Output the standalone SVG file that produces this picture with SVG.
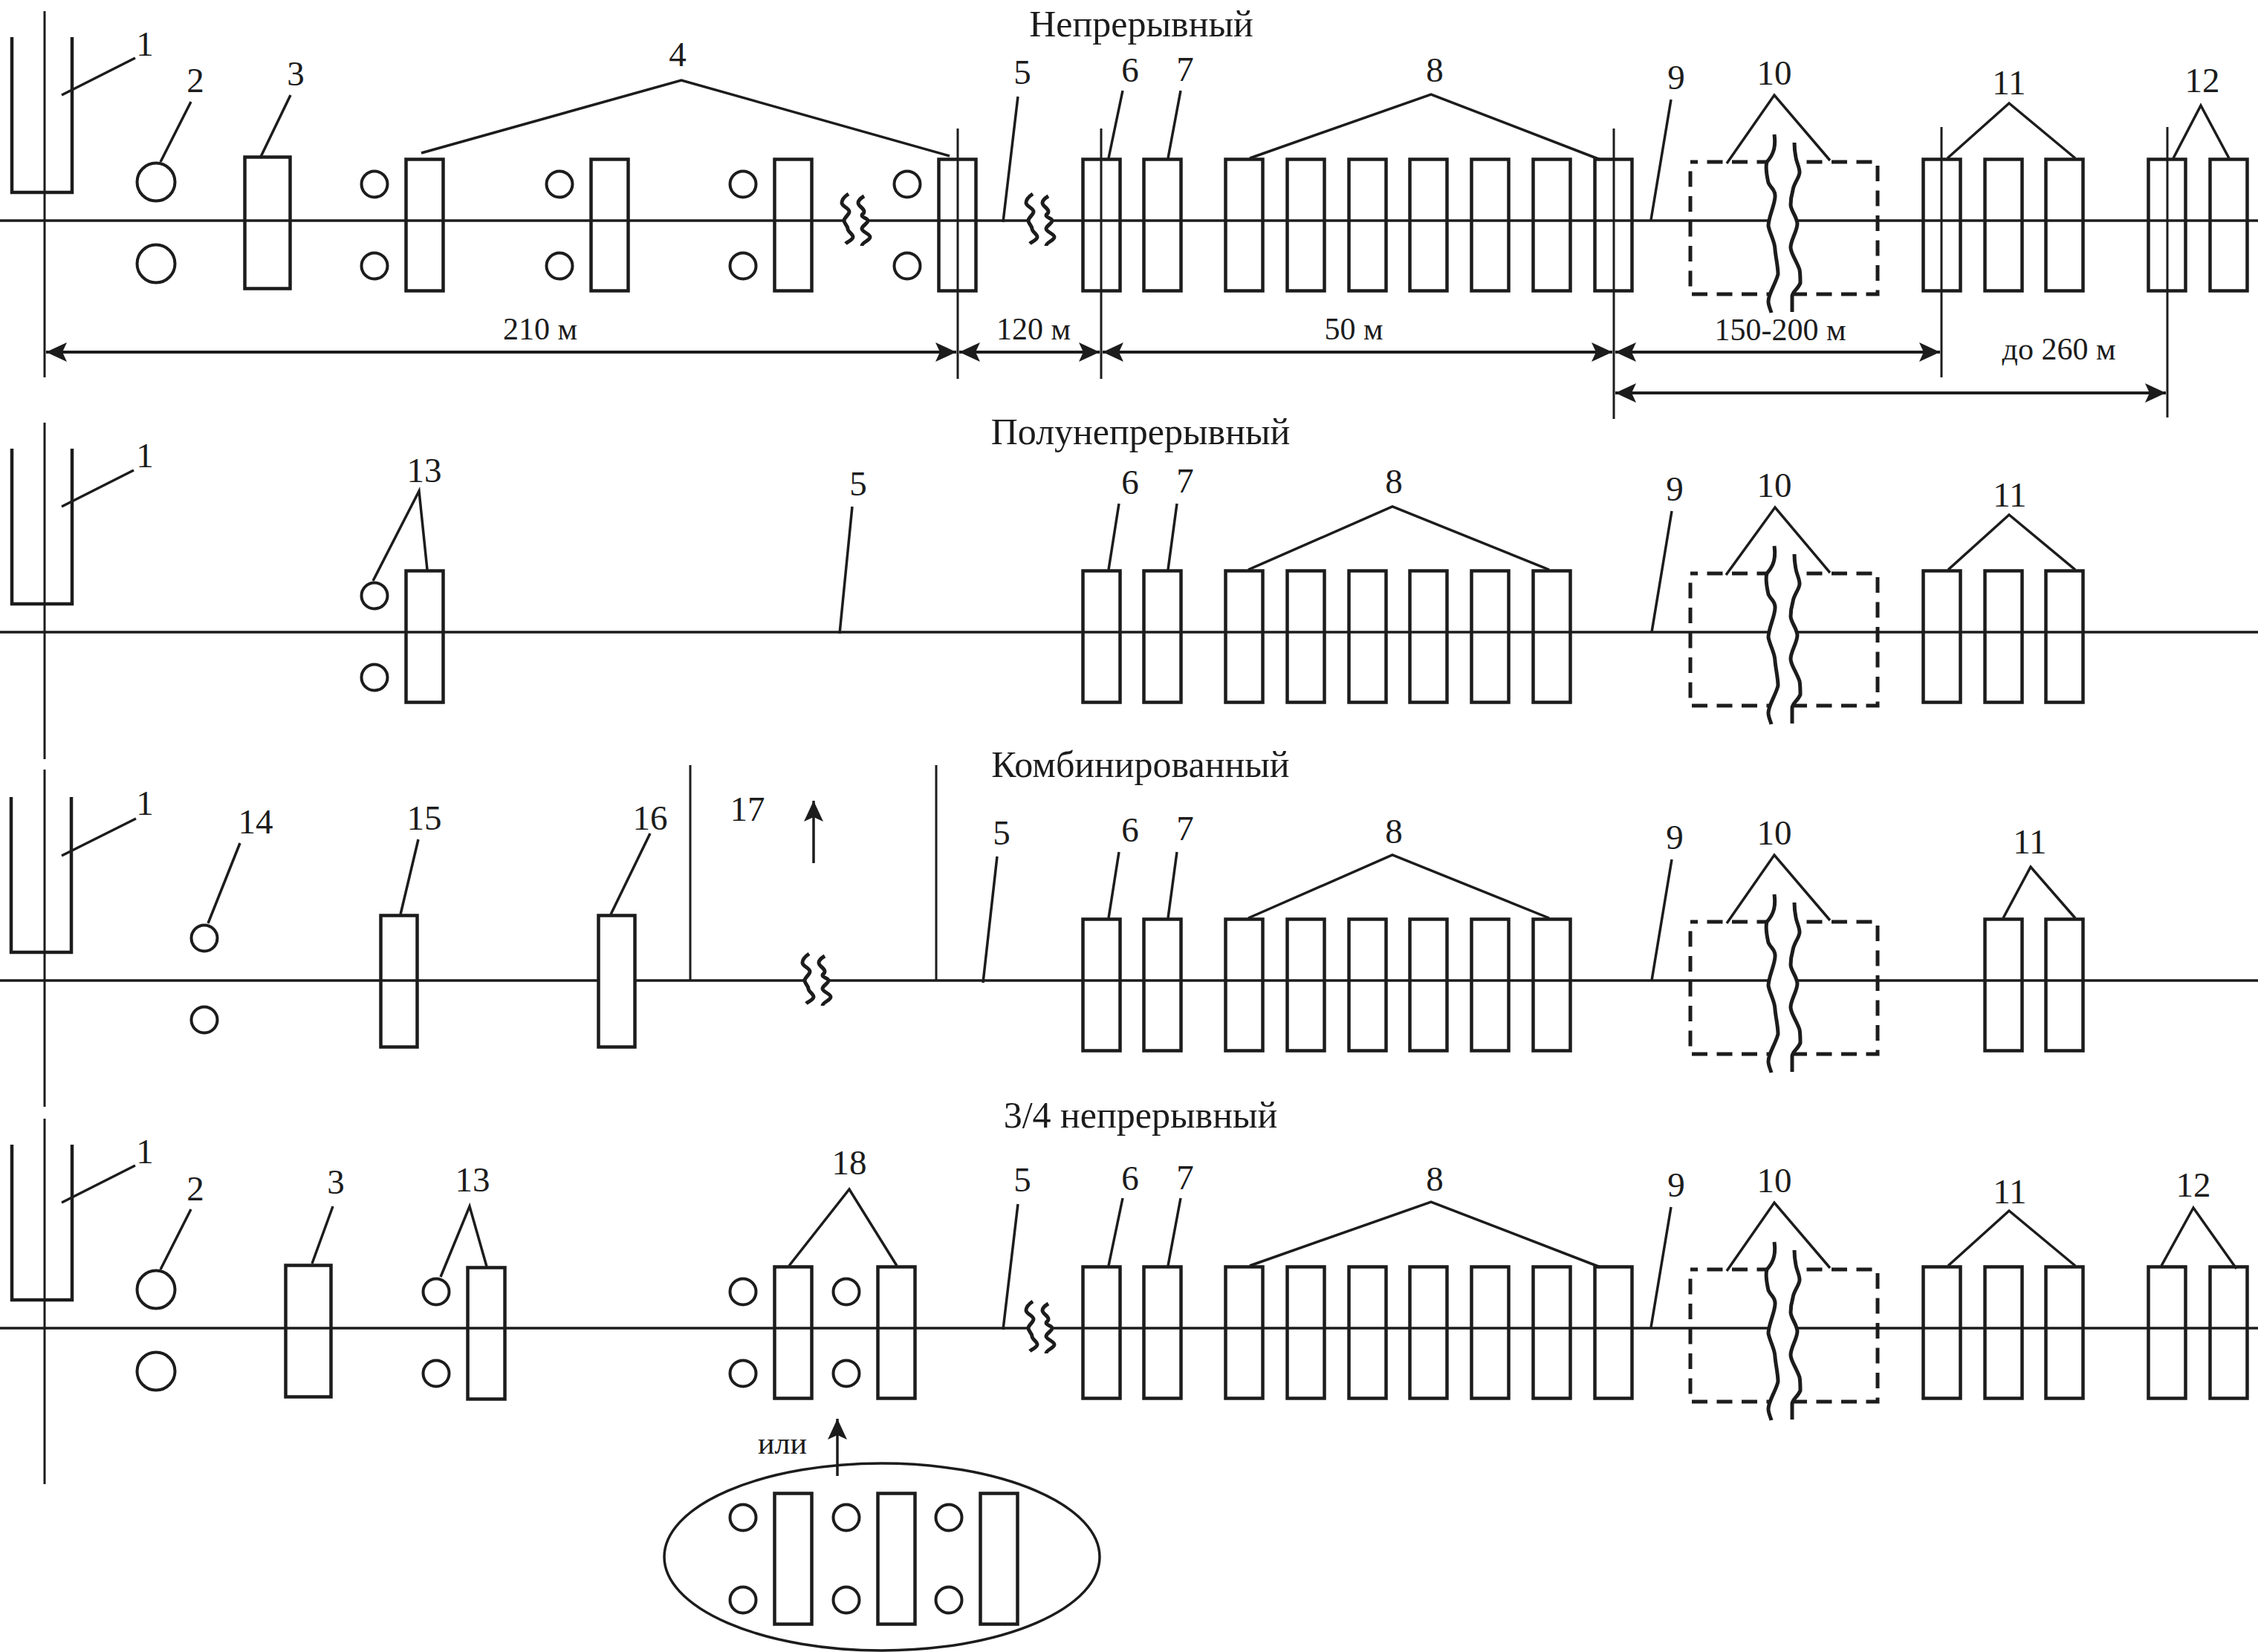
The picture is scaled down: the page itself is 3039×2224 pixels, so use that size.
<svg xmlns="http://www.w3.org/2000/svg" width="3039" height="2224" viewBox="0 0 3039 2224">
<style>
text{font-family:"Liberation Serif","Times New Roman",serif;font-size:47px;fill:#1c1c1c;text-anchor:middle}
.t{font-size:50px}
.d{font-size:42px}
.s{fill:none;stroke:#1c1c1c;stroke-width:4.5}
.w{fill:#fff;stroke:#1c1c1c;stroke-width:4.5}
.c{fill:none;stroke:#1c1c1c;stroke-width:4}
.e{fill:none;stroke:#1c1c1c;stroke-width:3.5}
.m{fill:none;stroke:#1c1c1c;stroke-width:3.5}
.v{fill:none;stroke:#1c1c1c;stroke-width:3}
.l{fill:none;stroke:#1c1c1c;stroke-width:3.5}
.dash{fill:none;stroke:#1c1c1c;stroke-width:5;stroke-dasharray:21 12.5;stroke-dashoffset:11}
.dim{fill:none;stroke:#1c1c1c;stroke-width:4;marker-start:url(#ah);marker-end:url(#ah)}
.up{fill:none;stroke:#1c1c1c;stroke-width:3.5;marker-end:url(#ah)}
.wv{fill:none;stroke:#1c1c1c;stroke-width:5}
</style>
<defs>
<marker id="ah" markerUnits="userSpaceOnUse" markerWidth="30" markerHeight="26" refX="28" refY="13" orient="auto-start-reverse"><path d="M0 0L28 13L0 26L6 13Z" fill="#1c1c1c"/></marker>
<g id="river">
<path fill="#fff" d="M0 -116C2 -101,0 -90,-10 -79C-12 -72,-10 -60,-8 -51C-5 -44,1 -42,1 -34C2 -24,-8 -5,-8 7C-6 18,1 28,1 39C2 50,5 62,5 72C2 85,-8 98,-8 109C-8 114,-5 120,-4 124L24 123L24 102C24 96,32 92,35 84C35 78,35 72,34 66C29 52,22 44,22 36C22 26,31 14,31 4C30 -6,23 -12,22 -21C22 -27,23 -34,25 -41C26 -50,34 -58,34 -65C34 -72,30 -78,29 -85C28 -90,27 -95,27 -105Z"/>
<path class="wv" d="M0 -116C2 -101,0 -90,-10 -79C-12 -72,-10 -60,-8 -51C-5 -44,1 -42,1 -34C2 -24,-8 -5,-8 7C-6 18,1 28,1 39C2 50,5 62,5 72C2 85,-8 98,-8 109C-8 114,-5 120,-4 124"/>
<path class="wv" d="M27 -105C27 -95,28 -90,29 -85C30 -78,34 -72,34 -65C34 -58,26 -50,25 -41C23 -34,22 -27,22 -21C23 -12,30 -6,31 4C31 14,22 26,22 36C22 44,29 52,34 66C35 72,35 78,35 84C32 92,24 96,24 102L24 123"/>
</g>
<g id="wave">
<rect x="0" y="-4" width="30" height="8" fill="#fff"/>
<path class="wv" d="M6 -36C0 -32,-3 -28,-3 -24C-3 -19,7 -17,7 -12C7 -8,0 -4,0 0C0 4,5 7,5 11C5 15,12 18,12 22C12 26,5 28,2 31"/>
<path class="wv" d="M27 -33C22 -30,19 -27,19 -24C19 -19,27 -17,27 -12C27 -9,24 -9,24 -7C24 -4,32 -3,32 0C32 4,24 7,24 11C24 15,35 18,35 22C35 27,24 29,24 34"/>
</g>
</defs>

<g id="connectors">
<path class="m" d="M0 297H3039M0 851H3039M0 1320H3039M0 1788H3039"/>
<path class="v" d="M60 15V508M60 569V1022M60 1036V1490M60 1506V1998"/>
<path class="v" d="M1289 173V510M1482 173V510M2172 173V564M2613 171V508M2917 171V562"/>
<path class="v" d="M929 1030V1320M1260 1030V1320"/>
<path class="dim" d="M62 474H1287"/>
<path class="dim" d="M1291 474H1480"/>
<path class="dim" d="M1484 474H2170"/>
<path class="dim" d="M2174 474H2611"/>
<path class="dim" d="M2174 529H2915"/>
<path class="l" d="M83 128L182 78M257 137L216 218M391 128L350 213M567 206L917 108L1278 210M1370 130L1350 299M1511 122L1492 213M1589 122L1572 213M1682 213L1926 127L2154 215M2249 134L2222 296M2324 220L2388 128L2463 216M2621 213L2704 139L2793 213M2925 213L2962 142L3000 213"/>
<path class="l" d="M83 682L180 633M502 782L564 661L575 767M1147 682L1130 853M1506 678L1492 767M1584 678L1572 767M1680 767L1874 682L2085 767M2250 688L2223 851M2323 774L2389 683L2463 771M2622 767L2704 693L2793 767"/>
<path class="l" d="M83 1152L183 1102M323 1135L280 1243M563 1130L539 1231M875 1122L822 1231M1342 1153L1323 1323M1506 1147L1492 1236M1584 1147L1572 1236M1680 1236L1874 1151L2085 1236M2250 1157L2223 1320M2324 1243L2388 1151L2463 1239M2696 1236L2733 1167L2793 1236"/>
<path class="l" d="M83 1619L182 1569M257 1628L216 1709M448 1624L420 1701M593 1719L632 1624L655 1705M1062 1704L1143 1601L1207 1704M1370 1621L1350 1790M1511 1613L1492 1704M1589 1613L1572 1704M1682 1704L1926 1618L2154 1706M2249 1625L2222 1787M2324 1711L2388 1619L2463 1707M2622 1704L2704 1630L2793 1704M2909 1704L2952 1626L3010 1708"/>
<path class="up" d="M1095 1162V1078"/>
<path class="up" d="M1127 1987V1910"/>
</g>

<g id="titles">
<text class="t" x="1536" y="49">Непрерывный</text>
<text class="t" x="1535" y="598">Полунепрерывный</text>
<text class="t" x="1535" y="1046">Комбинированный</text>
<text class="t" x="1535" y="1518">3/4 непрерывный</text>
</g>

<g id="dimension-labels">
<text class="d" x="727" y="457">210 м</text>
<text class="d" x="1391" y="457">120 м</text>
<text class="d" x="1822" y="457">50 м</text>
<text class="d" x="2396" y="458">150-200 м</text>
<text class="d" x="2771" y="484">до 260 м</text>
<text class="d" x="1053" y="1957">или</text>
</g>

<g id="r1-n1"><path class="s" d="M16 50V259H97V50"/><text x="195" y="75">1</text></g>
<g id="r1-n2"><circle class="c" cx="210" cy="245" r="25.5"/><circle class="c" cx="210" cy="355" r="25.5"/><text x="263" y="124">2</text></g>
<g id="r1-n3"><rect class="s" x="329.5" y="211.5" width="61" height="177"/><text x="398" y="115">3</text></g>
<g id="r1-n4"><text x="912" y="89">4</text>
<circle class="c" cx="504" cy="248" r="17.5"/><circle class="c" cx="504" cy="358" r="17.5"/><rect class="s" x="546.5" y="214.5" width="50" height="177"/>
<circle class="c" cx="753" cy="248" r="17.5"/><circle class="c" cx="753" cy="358" r="17.5"/><rect class="s" x="795.5" y="214.5" width="50" height="177"/>
<circle class="c" cx="1000" cy="248" r="17.5"/><circle class="c" cx="1000" cy="358" r="17.5"/><rect class="s" x="1042.5" y="214.5" width="50" height="177"/>
<use href="#wave" x="1136" y="297"/>
<circle class="c" cx="1221" cy="248" r="17.5"/><circle class="c" cx="1221" cy="358" r="17.5"/><rect class="s" x="1263.5" y="214.5" width="50" height="177"/></g>
<g id="r1-n5"><use href="#wave" x="1384" y="297"/><text x="1376" y="113">5</text></g>
<g id="r1-n6"><rect class="s" x="1457.5" y="214.5" width="50" height="177"/><text x="1521" y="110">6</text></g>
<g id="r1-n7"><rect class="s" x="1539.5" y="214.5" width="50" height="177"/><text x="1595" y="109">7</text></g>
<g id="r1-n8"><rect class="s" x="1649.5" y="214.5" width="50" height="177"/><rect class="s" x="1732.5" y="214.5" width="50" height="177"/><rect class="s" x="1815.5" y="214.5" width="50" height="177"/><rect class="s" x="1897.5" y="214.5" width="50" height="177"/><rect class="s" x="1980.5" y="214.5" width="50" height="177"/><rect class="s" x="2063.5" y="214.5" width="50" height="177"/><rect class="s" x="2146.5" y="214.5" width="50" height="177"/><text x="1931" y="110">8</text></g>
<g id="r1-n9"><text x="2256" y="120">9</text></g>
<g id="r1-n10"><rect class="dash" x="2275" y="218" width="252" height="178"/><use href="#river" x="2388" y="297"/><text x="2388" y="114">10</text></g>
<g id="r1-n11"><rect class="s" x="2588.5" y="214.5" width="50" height="177"/><rect class="s" x="2671.5" y="214.5" width="50" height="177"/><rect class="s" x="2753.5" y="214.5" width="50" height="177"/><text x="2704" y="127">11</text></g>
<g id="r1-n12"><rect class="s" x="2891.5" y="214.5" width="50" height="177"/><rect class="s" x="2974.5" y="214.5" width="50" height="177"/><text x="2964" y="124">12</text></g>

<g id="r2-n1"><path class="s" d="M16 604V813H97V604"/><text x="195" y="629">1</text></g>
<g id="r2-n13"><circle class="c" cx="504" cy="802" r="17.5"/><circle class="c" cx="504" cy="912" r="17.5"/><rect class="s" x="546.5" y="768.5" width="50" height="177"/><text x="571" y="649">13</text></g>
<g id="r2-n5"><text x="1155" y="667">5</text></g>
<g id="r2-n6"><rect class="s" x="1457.5" y="768.5" width="50" height="177"/><text x="1521" y="665">6</text></g>
<g id="r2-n7"><rect class="s" x="1539.5" y="768.5" width="50" height="177"/><text x="1595" y="663">7</text></g>
<g id="r2-n8"><rect class="s" x="1649.5" y="768.5" width="50" height="177"/><rect class="s" x="1732.5" y="768.5" width="50" height="177"/><rect class="s" x="1815.5" y="768.5" width="50" height="177"/><rect class="s" x="1897.5" y="768.5" width="50" height="177"/><rect class="s" x="1980.5" y="768.5" width="50" height="177"/><rect class="s" x="2063.5" y="768.5" width="50" height="177"/><text x="1876" y="664">8</text></g>
<g id="r2-n9"><text x="2254" y="674">9</text></g>
<g id="r2-n10"><rect class="dash" x="2275" y="772" width="252" height="178"/><use href="#river" x="2388" y="851"/><text x="2388" y="669">10</text></g>
<g id="r2-n11"><rect class="s" x="2588.5" y="768.5" width="50" height="177"/><rect class="s" x="2671.5" y="768.5" width="50" height="177"/><rect class="s" x="2753.5" y="768.5" width="50" height="177"/><text x="2705" y="682">11</text></g>

<g id="r3-n1"><path class="s" d="M15 1073V1282H96V1073"/><text x="195" y="1097">1</text></g>
<g id="r3-n14"><circle class="c" cx="275" cy="1263" r="17.5"/><circle class="c" cx="275" cy="1373" r="17.5"/><text x="344" y="1122">14</text></g>
<g id="r3-n15"><rect class="s" x="512.5" y="1232.5" width="49" height="177"/><text x="571" y="1117">15</text></g>
<g id="r3-n16"><rect class="w" x="805.5" y="1232.5" width="49" height="177"/><text x="875" y="1117">16</text></g>
<g id="r3-n17"><use href="#wave" x="1083" y="1320"/><text x="1006" y="1105">17</text></g>
<g id="r3-n5"><text x="1348" y="1137">5</text></g>
<g id="r3-n6"><rect class="s" x="1457.5" y="1237.5" width="50" height="177"/><text x="1521" y="1133">6</text></g>
<g id="r3-n7"><rect class="s" x="1539.5" y="1237.5" width="50" height="177"/><text x="1595" y="1131">7</text></g>
<g id="r3-n8"><rect class="s" x="1649.5" y="1237.5" width="50" height="177"/><rect class="s" x="1732.5" y="1237.5" width="50" height="177"/><rect class="s" x="1815.5" y="1237.5" width="50" height="177"/><rect class="s" x="1897.5" y="1237.5" width="50" height="177"/><rect class="s" x="1980.5" y="1237.5" width="50" height="177"/><rect class="s" x="2063.5" y="1237.5" width="50" height="177"/><text x="1876" y="1135">8</text></g>
<g id="r3-n9"><text x="2254" y="1143">9</text></g>
<g id="r3-n10"><rect class="dash" x="2275" y="1241" width="252" height="178"/><use href="#river" x="2388" y="1320"/><text x="2388" y="1137">10</text></g>
<g id="r3-n11"><rect class="s" x="2671.5" y="1237.5" width="50" height="177"/><rect class="s" x="2753.5" y="1237.5" width="50" height="177"/><text x="2732" y="1149">11</text></g>

<g id="r4-n1"><path class="s" d="M16 1541V1750H97V1541"/><text x="195" y="1566">1</text></g>
<g id="r4-n2"><circle class="c" cx="210" cy="1736" r="25.5"/><circle class="c" cx="210" cy="1846" r="25.5"/><text x="263" y="1616">2</text></g>
<g id="r4-n3"><rect class="s" x="384.5" y="1703.5" width="61" height="177"/><text x="452" y="1607">3</text></g>
<g id="r4-n13"><circle class="c" cx="587" cy="1739" r="17.5"/><circle class="c" cx="587" cy="1849" r="17.5"/><rect class="s" x="629.5" y="1706.5" width="50" height="177"/><text x="636" y="1604">13</text></g>
<g id="r4-n18"><circle class="c" cx="1000" cy="1739" r="17.5"/><circle class="c" cx="1000" cy="1849" r="17.5"/><rect class="s" x="1042.5" y="1705.5" width="50" height="177"/><circle class="c" cx="1139" cy="1739" r="17.5"/><circle class="c" cx="1139" cy="1849" r="17.5"/><rect class="s" x="1181.5" y="1705.5" width="50" height="177"/><text x="1143" y="1581">18</text></g>
<g id="r4-n5"><use href="#wave" x="1384" y="1788"/><text x="1376" y="1604">5</text></g>
<g id="r4-n6"><rect class="s" x="1457.5" y="1705.5" width="50" height="177"/><text x="1521" y="1602">6</text></g>
<g id="r4-n7"><rect class="s" x="1539.5" y="1705.5" width="50" height="177"/><text x="1595" y="1601">7</text></g>
<g id="r4-n8"><rect class="s" x="1649.5" y="1705.5" width="50" height="177"/><rect class="s" x="1732.5" y="1705.5" width="50" height="177"/><rect class="s" x="1815.5" y="1705.5" width="50" height="177"/><rect class="s" x="1897.5" y="1705.5" width="50" height="177"/><rect class="s" x="1980.5" y="1705.5" width="50" height="177"/><rect class="s" x="2063.5" y="1705.5" width="50" height="177"/><rect class="s" x="2146.5" y="1705.5" width="50" height="177"/><text x="1931" y="1603">8</text></g>
<g id="r4-n9"><text x="2256" y="1611">9</text></g>
<g id="r4-n10"><rect class="dash" x="2275" y="1709" width="252" height="178"/><use href="#river" x="2388" y="1788"/><text x="2388" y="1605">10</text></g>
<g id="r4-n11"><rect class="s" x="2588.5" y="1705.5" width="50" height="177"/><rect class="s" x="2671.5" y="1705.5" width="50" height="177"/><rect class="s" x="2753.5" y="1705.5" width="50" height="177"/><text x="2705" y="1620">11</text></g>
<g id="r4-n12"><rect class="s" x="2891.5" y="1705.5" width="50" height="177"/><rect class="s" x="2974.5" y="1705.5" width="50" height="177"/><text x="2952" y="1611">12</text></g>

<g id="inset"><ellipse class="e" cx="1187" cy="2096" rx="293" ry="126"/>
<circle class="c" cx="1000" cy="2043" r="17.5"/><circle class="c" cx="1000" cy="2154" r="17.5"/><rect class="s" x="1042.5" y="2010.5" width="50" height="176"/>
<circle class="c" cx="1139" cy="2043" r="17.5"/><circle class="c" cx="1139" cy="2154" r="17.5"/><rect class="s" x="1181.5" y="2010.5" width="50" height="176"/>
<circle class="c" cx="1277" cy="2043" r="17.5"/><circle class="c" cx="1277" cy="2154" r="17.5"/><rect class="s" x="1319.5" y="2010.5" width="50" height="176"/></g>
</svg>
